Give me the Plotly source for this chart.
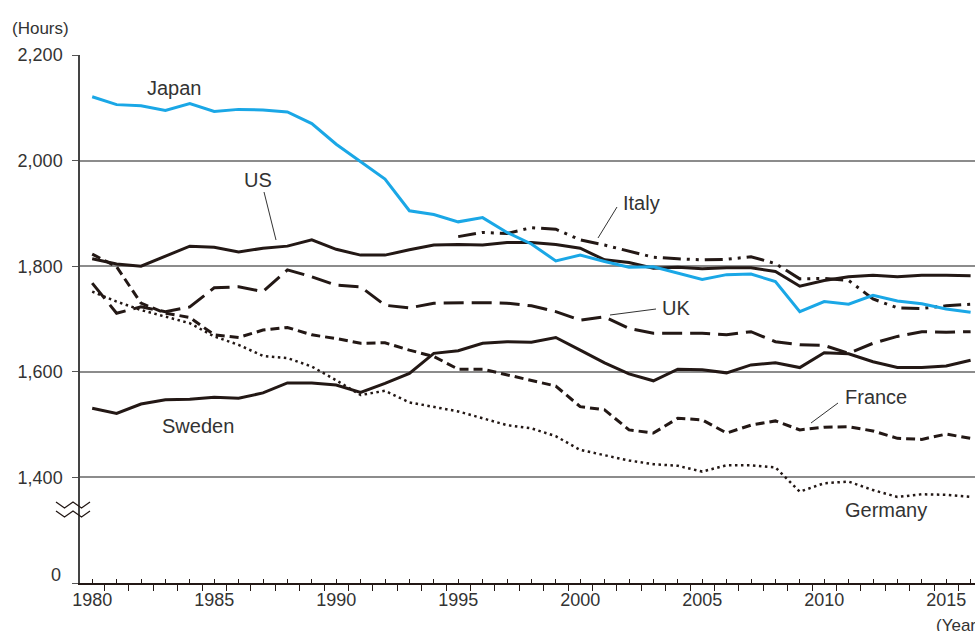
import plotly.graph_objects as go

years = list(range(1980, 2017))
italy_years = list(range(1995, 2017))

japan = [2121, 2106, 2104, 2095, 2108, 2093, 2097, 2096, 2092, 2070,
         2031, 1998, 1965, 1905, 1898, 1884, 1892, 1864, 1842, 1810,
         1821, 1809, 1798, 1799, 1787, 1775, 1784, 1785, 1771, 1714,
         1733, 1728, 1745, 1734, 1729, 1719, 1713]
us = [1814, 1804, 1800, 1819, 1838, 1836, 1827, 1834, 1838, 1850,
      1832, 1821, 1821, 1831, 1840, 1841, 1840, 1845, 1845, 1841,
      1834, 1812, 1807, 1796, 1798, 1795, 1797, 1797, 1790, 1762,
      1773, 1780, 1783, 1780, 1783, 1783, 1782]
italy = [1856, 1864, 1862, 1873, 1870, 1850, 1840, 1829, 1817, 1814,
         1812, 1813, 1818, 1805, 1776, 1777, 1773, 1738, 1721, 1720,
         1725, 1728]
uk = [1768, 1711, 1723, 1714, 1723, 1759, 1761, 1752, 1793, 1780,
      1764, 1761, 1726, 1721, 1730, 1731, 1731, 1730, 1725, 1714,
      1698, 1704, 1682, 1673, 1673, 1673, 1670, 1676, 1657, 1651,
      1650, 1635, 1654, 1667, 1676, 1675, 1676]
france = [1823, 1799, 1730, 1711, 1703, 1670, 1665, 1679, 1684, 1670,
          1663, 1654, 1655, 1641, 1629, 1605, 1605, 1594, 1584, 1573,
          1534, 1528, 1490, 1484, 1512, 1509, 1484, 1499, 1507, 1490,
          1495, 1496, 1488, 1474, 1472, 1482, 1474]
sweden = [1531, 1521, 1539, 1547, 1548, 1552, 1550, 1560, 1579, 1579,
          1575, 1561, 1578, 1597, 1635, 1640, 1654, 1657, 1656, 1665,
          1641, 1617, 1596, 1583, 1605, 1604, 1598, 1613, 1617, 1608,
          1636, 1634, 1619, 1608, 1608, 1611, 1622]
germany = [1752, 1733, 1717, 1704, 1692, 1667, 1651, 1630, 1626, 1610,
           1584, 1556, 1564, 1542, 1534, 1525, 1512, 1499, 1493, 1478,
           1452, 1442, 1432, 1425, 1422, 1411, 1423, 1423, 1419, 1373,
           1389, 1392, 1376, 1363, 1368, 1367, 1363]

# 1200 on the axis stands for 0 (broken axis)
y_ticks = [1200, 1400, 1600, 1800, 2000, 2200]
y_labels = ["", "1,400", "1,600", "1,800", "2,000", "2,200"]

BLACK = "#231815"
TEXT = "#333333"
FONT = "Liberation Sans"


# pixel -> data / paper helpers (plot area: x 80..975, y 55..583)
def px_x(px):
    return 1979.5 + (px - 80) / 24.4


def px_y(py):
    return 1200 + (583 - py) / 0.528


def paper_x(px):
    return (px - 80) / 895


def paper_y(py):
    return (583 - py) / 528


fig = go.Figure()

series = [
    ("Germany", years, germany, dict(color=BLACK, width=2.5, dash="2.5px,3.5px")),
    ("France", years, france, dict(color=BLACK, width=3, dash="9px,5px")),
    ("Sweden", years, sweden, dict(color=BLACK, width=3)),
    ("UK", years, uk, dict(color=BLACK, width=3, dash="20px,8px")),
    ("Italy", italy_years, italy, dict(color=BLACK, width=3, dash="18px,6px,3px,6px,3px,6px")),
    ("US", years, us, dict(color=BLACK, width=3)),
    ("Japan", years, japan, dict(color="#1aa7e6", width=3)),
]
for name, xs, ys, line in series:
    fig.add_trace(go.Scatter(x=xs, y=ys, mode="lines", name=name, line=line))

# country labels
labels = [
    ("Japan", 174, 88),
    ("US", 258, 180),
    ("Italy", 641, 203),
    ("UK", 676, 308),
    ("France", 876, 397),
    ("Germany", 886, 510),
    ("Sweden", 198, 426),
]
for text, px, py in labels:
    fig.add_annotation(x=px_x(px), y=px_y(py), text=text, showarrow=False,
                       font=dict(family=FONT, size=20, color=TEXT))

# leader lines
leaders = [
    (264, 192, 276, 240),
    (617, 207, 598, 238),
    (656, 309, 610, 315),
    (838, 403, 811, 423),
]
for x0, y0, x1, y1 in leaders:
    fig.add_shape(type="line", xref="x", yref="y",
                  x0=px_x(x0), y0=px_y(y0), x1=px_x(x1), y1=px_y(y1),
                  line=dict(color=TEXT, width=1))

# axis break symbol (wavy double line across the y axis)
for off in (0, 9):
    pts = [(56, 502), (64.5, 508), (73, 502), (81.5, 508), (90, 502)]
    path = "M {} {}".format(paper_x(pts[0][0]), paper_y(pts[0][1] + off))
    for xb, yb in pts[1:]:
        path += " L {} {}".format(paper_x(xb), paper_y(yb + off))
    fig.add_shape(type="path", xref="paper", yref="paper", path=path,
                  line=dict(color=BLACK, width=1.3))

fig.add_annotation(x=paper_x(62.5), y=paper_y(575), xref="paper", yref="paper",
                   text="0", showarrow=False, xanchor="right", yanchor="middle",
                   font=dict(family=FONT, size=18, color=TEXT))
fig.add_annotation(x=paper_x(10), y=paper_y(28), xref="paper", yref="paper",
                   text="(Hours)", showarrow=False, xanchor="left", yanchor="middle",
                   font=dict(family=FONT, size=17, color=TEXT))
fig.add_annotation(x=paper_x(934), y=paper_y(625), xref="paper", yref="paper",
                   text="(Year)", showarrow=False, xanchor="left", yanchor="middle",
                   font=dict(family=FONT, size=17, color=TEXT))

fig.update_layout(
    width=975, height=631,
    margin=dict(l=80, r=0, t=55, b=48, pad=0),
    plot_bgcolor="white", paper_bgcolor="white",
    showlegend=False,
    font=dict(family=FONT, size=18, color=TEXT),
    xaxis=dict(
        range=[1979.5, 1979.5 + 895 / 24.4],
        tickmode="array", tickvals=years,
        ticktext=[str(y) if y % 5 == 0 else "" for y in years],
        ticks="inside", ticklen=4, tickwidth=1.3, tickcolor=BLACK,
        minor=dict(tickmode="array", tickvals=[y - 0.5 for y in years] + [2016.5],
                   ticks="outside", ticklen=6, tickwidth=1.3, tickcolor=BLACK),
        showline=True, linecolor=BLACK, linewidth=1.5,
        showgrid=False, zeroline=False,
        tickfont=dict(family=FONT, size=18, color=TEXT),
    ),
    yaxis=dict(
        range=[1200, 2200],
        tickmode="array", tickvals=y_ticks, ticktext=y_labels,
        ticks="outside", ticklen=6, tickwidth=1.3, tickcolor="#555555",
        showline=True, linecolor="#444444", linewidth=1.5,
        showgrid=True, gridcolor="#8c8c8c", gridwidth=1.5,
        zeroline=False, ticklabelstandoff=6,
        tickfont=dict(family=FONT, size=18, color=TEXT),
    ),
)

# drop the default page margin so the figure fills the window
fig.write_html("out.html",
               config={"displayModeBar": False},
               post_script="document.body.style.margin='0';"
                           "document.body.style.overflow='hidden';")
